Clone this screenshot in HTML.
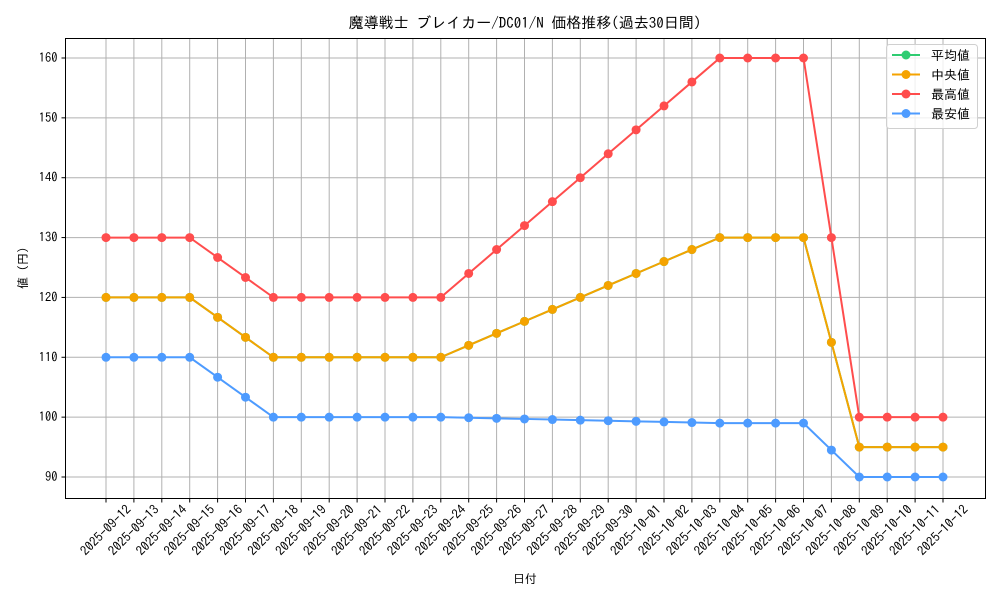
<!DOCTYPE html>
<html><head><meta charset="utf-8"><style>
body{margin:0;background:#fff;}
svg text{font-family:"IPAGothic","Liberation Sans","Noto Sans CJK JP",sans-serif;fill:#000;}
</style></head><body>
<svg id="s" width="1000" height="600" xmlns="http://www.w3.org/2000/svg"></svg>
<script>
const s=document.getElementById('s');
let h='';
const L=65.5,R=985.5,T=38.5,B=498.5;
const X=i=>106+i*27.9, Y=v=>58+(160-v)*5.9857;
h+=`<rect x="0" y="0" width="1000" height="600" fill="#fff"/>`;
for(let i=0;i<31;i++){h+=`<line x1="${X(i)}" y1="${T}" x2="${X(i)}" y2="${B}" stroke="#b0b0b0" stroke-width="1"/>`;}
for(let v=90;v<=160;v+=10){h+=`<line x1="${L}" y1="${Y(v)}" x2="${R}" y2="${Y(v)}" stroke="#b0b0b0" stroke-width="1"/>`;
h+=`<line x1="${L-4}" y1="${Y(v)}" x2="${L}" y2="${Y(v)}" stroke="#000"/>`;
h+=`<text x="${L-8}" y="${Y(v)+4}" font-size="12.5" text-anchor="end">${v}</text>`;}
const d0=new Date(Date.UTC(2025,8,12));
for(let i=0;i<31;i++){const d=new Date(d0.getTime()+i*864e5);
const lab=d.toISOString().slice(0,10);
h+=`<line x1="${X(i)}" y1="${B}" x2="${X(i)}" y2="${B+4}" stroke="#000"/>`;
h+=`<text x="0" y="0" font-size="13" text-anchor="middle" transform="translate(${X(i)},${B+32}) rotate(-45)" dy="4">${lab}</text>`;}
const mx=[130,130,130,130,126.67,123.33,120,120,120,120,120,120,120,124,128,132,136,140,144,148,152,156,160,160,160,160,130,100,100,100,100];
const md=[120,120,120,120,116.67,113.33,110,110,110,110,110,110,110,112,114,116,118,120,122,124,126,128,130,130,130,130,112.5,95,95,95,95];
const mn=[110,110,110,110,106.67,103.33,100,100,100,100,100,100,100,99.9,99.8,99.7,99.6,99.5,99.4,99.3,99.2,99.1,99,99,99,99,94.5,90,90,90,90];
function ser(a,c){h+=`<polyline fill="none" stroke="${c}" stroke-width="2" points="${a.map((v,i)=>X(i)+','+Y(v)).join(' ')}"/>`;
a.forEach((v,i)=>h+=`<circle cx="${X(i)}" cy="${Y(v)}" r="4.5" fill="${c}"/>`);}
ser(md,'#2ecc71');ser(md,'#f5a300');ser(mx,'#ff4d4d');ser(mn,'#4d9bff');
h+=`<rect x="${L}" y="${T}" width="${R-L}" height="${B-T}" fill="none" stroke="#000" stroke-width="1"/>`;
h+=`<text x="525" y="28" font-size="15" text-anchor="middle">魔導戦士 ブレイカー/DC01/N 価格推移(過去30日間)</text>`;
h+=`<text x="525" y="583" font-size="12" text-anchor="middle">日付</text>`;
h+=`<text x="0" y="0" font-size="12" text-anchor="middle" transform="translate(27,268) rotate(-90)">値 (円)</text>`;
h+=`<rect x="886.5" y="44.5" width="91" height="84" rx="3" fill="#fff" fill-opacity="0.8" stroke="#d0d0d0"/>`;
[['平均値','#2ecc71'],['中央値','#f5a300'],['最高値','#ff4d4d'],['最安値','#4d9bff']].forEach((e,k)=>{const y=55+k*19.5;
h+=`<line x1="892" y1="${y}" x2="920" y2="${y}" stroke="${e[1]}" stroke-width="2"/><circle cx="906" cy="${y}" r="4.5" fill="${e[1]}"/>`;
h+=`<text x="931" y="${y+5}" font-size="13">${e[0]}</text>`;});
s.innerHTML=h;
</script>
</body></html>
